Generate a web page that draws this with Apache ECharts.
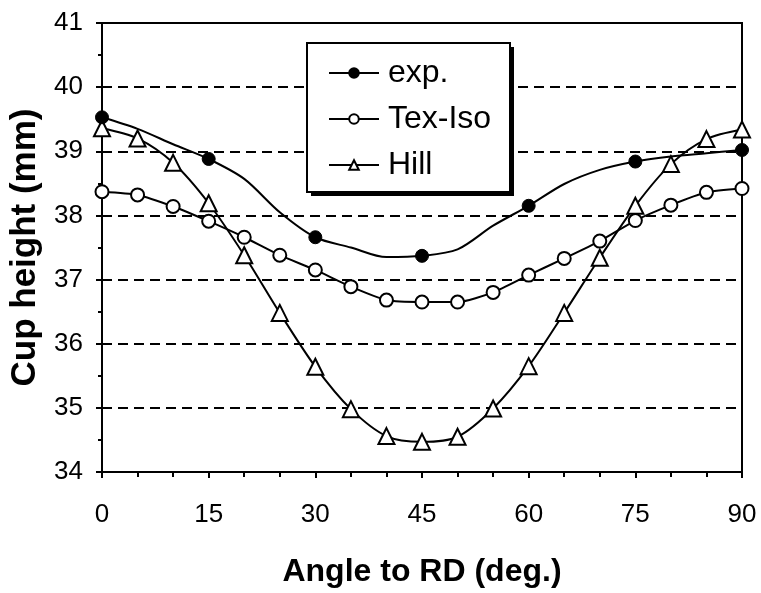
<!DOCTYPE html>
<html>
<head>
<meta charset="utf-8">
<script src="https://cdn.jsdelivr.net/npm/echarts@6/dist/echarts.min.js"></script>
<style>
  html, body { margin: 0; padding: 0; background: #fff; }
  #chart { width: 761px; height: 593px; }
</style>
</head>
<body>
<div id="chart"></div>
<script>
// angles in degrees (every 5)
const angles = [0, 5, 10, 15, 20, 25, 30, 35, 40, 45, 50, 55, 60, 65, 70, 75, 80, 85, 90];
const expValues = [39.53, 39.35, 39.11, 38.88, 38.57, 38.05, 37.66, 37.5, 37.35, 37.37, 37.47, 37.84, 38.15, 38.49, 38.71, 38.84, 38.92, 38.97, 39.02];
const expMeasured = [0, 15, 30, 45, 60, 75, 90];
const texIsoValues = [38.37, 38.32, 38.14, 37.91, 37.66, 37.38, 37.15, 36.89, 36.68, 36.65, 36.65, 36.8, 37.07, 37.33, 37.6, 37.92, 38.16, 38.36, 38.42];
const hillValues = [39.36, 39.2, 38.82, 38.19, 37.38, 36.48, 35.64, 34.98, 34.56, 34.47, 34.55, 34.99, 35.65, 36.48, 37.34, 38.15, 38.8, 39.19, 39.34];
const seriesNames = ["exp.", "Tex-Iso", "Hill"];

const font = "'Liberation Sans', Arial, sans-serif";

const chart = echarts.init(document.getElementById("chart"));

const expData = angles.map((a, i) => {
  if (expMeasured.indexOf(a) >= 0) return [a, expValues[i]];
  return { value: [a, expValues[i]], symbol: "none" };
});

const options = {
  backgroundColor: "#fff",
  animation: false,
  grid: {
    left: 102,
    right: 19,
    top: 23,
    bottom: 118,
    show: true,
    borderColor: "#000",
    borderWidth: 2
  },
  // legend frame with its offset shadow
  graphic: [
    { type: "rect", z: 20, shape: { x: 311, y: 47, width: 203, height: 149 }, style: { fill: "#000" } },
    { type: "rect", z: 21, shape: { x: 307, y: 43, width: 203, height: 149 }, style: { fill: "#fff", stroke: "#000", lineWidth: 2 } }
  ],
  legend: {
    orient: "vertical",
    left: 328,
    top: 56,
    padding: 0,
    itemGap: 12,
    itemWidth: 50,
    itemHeight: 12,
    z: 30,
    textStyle: { fontFamily: font, fontSize: 32, lineHeight: 34, color: "#000", padding: [0, 0, 0, 4] },
    data: seriesNames
  },
  xAxis: {
    type: "value",
    min: 0,
    max: 90,
    interval: 15,
    name: "Angle to RD (deg.)",
    nameLocation: "middle",
    nameGap: 84,
    nameTextStyle: { fontFamily: font, fontSize: 32, fontWeight: "bold", color: "#000" },
    axisLine: { lineStyle: { color: "#000", width: 2 } },
    axisTick: { show: true, length: 6, lineStyle: { color: "#000", width: 2 } },
    minorTick: { show: true, splitNumber: 3, length: 5, lineStyle: { color: "#000", width: 2 } },
    axisLabel: { fontFamily: font, fontSize: 26, color: "#000", margin: 30 },
    splitLine: { show: false }
  },
  yAxis: [
    {
      type: "value",
      min: 34,
      max: 41,
      interval: 1,
      name: "Cup height (mm)",
      nameLocation: "middle",
      nameGap: 58,
      nameTextStyle: { fontFamily: font, fontSize: 35, fontWeight: "bold", color: "#000" },
      axisLine: { lineStyle: { color: "#000", width: 2 } },
      axisTick: { show: true, length: 6, lineStyle: { color: "#000", width: 2 } },
      minorTick: { show: true, splitNumber: 2, length: 4, lineStyle: { color: "#000", width: 2 } },
      axisLabel: { fontFamily: font, fontSize: 26, color: "#000", margin: 19 },
      splitLine: { show: true, lineStyle: { color: "#000", width: 2, type: [10, 6] } }
    },
    {
      // inner half of the cross-shaped major ticks
      type: "value",
      position: "left",
      min: 34,
      max: 41,
      interval: 1,
      axisLine: { show: false },
      axisTick: { show: true, inside: true, length: 5, lineStyle: { color: "#000", width: 2 } },
      axisLabel: { show: false },
      splitLine: { show: false }
    }
  ],
  series: [
    {
      name: seriesNames[0],
      type: "line",
      data: expData,
      smooth: 0.3,
      symbol: "circle",
      symbolSize: 13,
      itemStyle: { color: "#000", borderColor: "#000", borderWidth: 1 },
      lineStyle: { color: "#000", width: 2 },
      z: 4
    },
    {
      name: seriesNames[1],
      type: "line",
      data: angles.map((a, i) => [a, texIsoValues[i]]),
      smooth: 0.2,
      symbol: "circle",
      symbolSize: 13,
      itemStyle: { color: "#fff", borderColor: "#000", borderWidth: 2 },
      lineStyle: { color: "#000", width: 2 },
      z: 3
    },
    {
      name: seriesNames[2],
      type: "line",
      data: angles.map((a, i) => [a, hillValues[i]]),
      smooth: 0.3,
      symbol: "triangle",
      symbolSize: 16,
      itemStyle: { color: "#fff", borderColor: "#000", borderWidth: 2 },
      lineStyle: { color: "#000", width: 2 },
      z: 2
    }
  ]
};

chart.setOption(options);
</script>
</body>
</html>
